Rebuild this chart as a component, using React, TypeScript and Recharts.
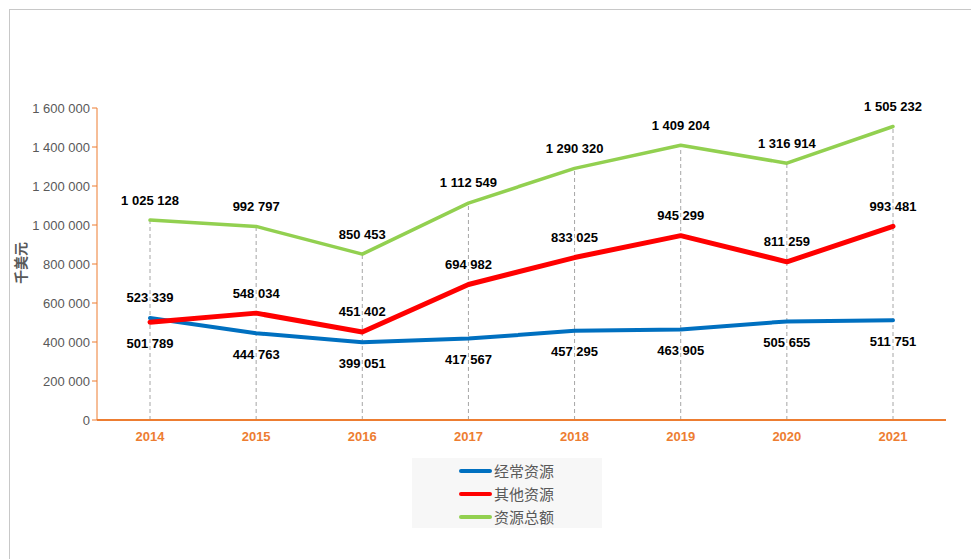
import React from 'react'
import { LineChart, Line, XAxis, YAxis, ReferenceLine, LabelList } from 'recharts'

const YEARS = ['2014', '2015', '2016', '2017', '2018', '2019', '2020', '2021']
const REGULAR = [523339, 444763, 399051, 417567, 457295, 463905, 505655, 511751]
const OTHER = [501789, 548034, 451402, 694982, 833025, 945299, 811259, 993481]
const TOTAL = [1025128, 992797, 850453, 1112549, 1290320, 1409204, 1316914, 1505232]
const Y_TICKS = [0, 200000, 400000, 600000, 800000, 1000000, 1200000, 1400000, 1600000]

const SERIES = [
  { key: 'regular', name: '经常资源', color: '#0070C0', width: 4 },
  { key: 'other', name: '其他资源', color: '#FF0000', width: 5 },
  { key: 'total', name: '资源总额', color: '#92D050', width: 3.5 },
]

const NUM_FONT = '"Liberation Sans", Arial, sans-serif'
const CJK_FONT = '"Noto Sans CJK SC", "Noto Sans", sans-serif'
const ORANGE = '#ED7D31'
const GRAY = '#595959'

const data = YEARS.map((y, i) => ({ year: y, regular: REGULAR[i], other: OTHER[i], total: TOTAL[i] }))

const fmt = (v: number) => String(v).replace(/\B(?=(\d{3})+(?!\d))/g, ' ')

// labels above or below the point (Excel swapped the first pair)
function makeLabel(series: string) {
  return (props: any) => {
    const { x, y, value, index } = props
    let above = series !== 'regular'
    if (index === 0 && series !== 'total') above = !above
    const dy = above ? -19 : 22
    return (
      <text x={x} y={y + dy} textAnchor="middle" dominantBaseline="middle"
        fontFamily={NUM_FONT} fontWeight="bold" fontSize={13} fill="#000">
        {fmt(value)}
      </text>
    )
  }
}

function LegendBox() {
  return (
    <div style={{
      position: 'absolute', left: 402, top: 448, width: 190, height: 70,
      background: '#f7f7f7', paddingTop: 1, boxSizing: 'border-box',
    }}>
      {SERIES.map(s => (
        <div key={s.key} style={{ display: 'flex', alignItems: 'center', height: 23, paddingLeft: 47 }}>
          <div style={{ width: 33, height: 4, borderRadius: 2, background: s.color, marginRight: 2 }} />
          <span style={{ fontFamily: CJK_FONT, fontSize: 15, color: GRAY, lineHeight: '23px' }}>{s.name}</span>
        </div>
      ))}
    </div>
  )
}

export default function App() {
  return (
    <div style={{
      position: 'fixed', left: 9, top: 9, width: 962, height: 550,
      borderTop: '1px solid #c8c8c8', borderLeft: '1px solid #c8c8c8', background: '#fff', overflow: 'hidden',
    }}>
      <LineChart width={960} height={548} data={data} margin={{ top: 98, right: 24, left: 17, bottom: 108 }}>
        <XAxis dataKey="year" height={30} axisLine={{ stroke: ORANGE, strokeWidth: 2 }} tickLine={false}
          padding={{ left: 53, right: 53 }}
          tick={{ fill: ORANGE, fontSize: 13, fontWeight: 'bold', fontFamily: NUM_FONT }} dy={4} />
        <YAxis domain={[0, 1600000]} ticks={Y_TICKS} width={70} interval={0}
          axisLine={{ stroke: ORANGE }} tickLine={{ stroke: ORANGE }} tickSize={5}
          tick={{ fill: GRAY, fontSize: 13, fontFamily: NUM_FONT }} tickFormatter={fmt} />
        {YEARS.map((y, i) => (
          <ReferenceLine key={y} segment={[{ x: y, y: 0 }, { x: y, y: TOTAL[i] }]}
            stroke="#a6a6a6" strokeDasharray="4 3" />
        ))}
        {SERIES.map(s => (
          <Line key={s.key} dataKey={s.key} name={s.name} stroke={s.color} strokeWidth={s.width}
            dot={false} activeDot={false} isAnimationActive={false} strokeLinecap="round" strokeLinejoin="round">
            <LabelList dataKey={s.key} content={makeLabel(s.key)} />
          </Line>
        ))}
        <text x={12} y={253} transform="rotate(-90 12 253)" textAnchor="middle" dominantBaseline="middle"
          fontFamily={CJK_FONT} fontSize={14} fontWeight="bold" fill={GRAY}>千美元</text>
      </LineChart>
      <LegendBox />
    </div>
  )
}
